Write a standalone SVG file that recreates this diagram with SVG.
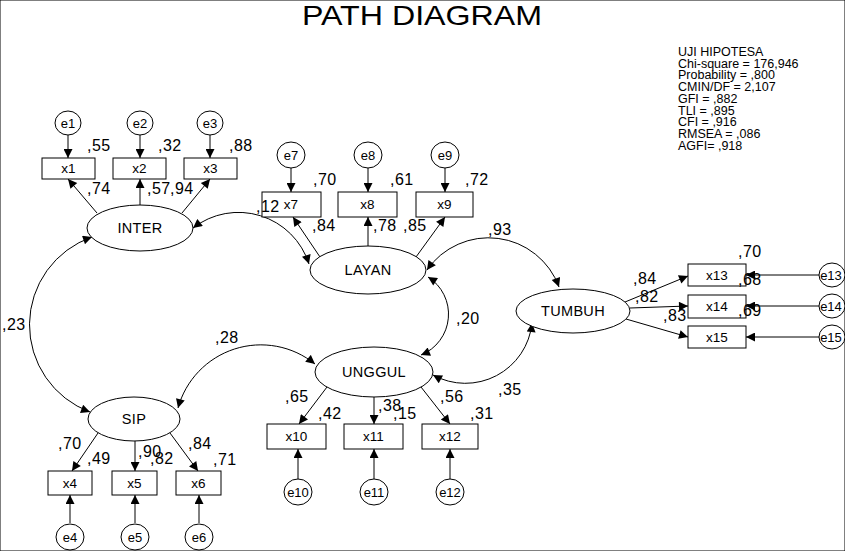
<svg xmlns="http://www.w3.org/2000/svg" width="845" height="551" viewBox="0 0 845 551">
<style>
text{font-family:"Liberation Sans",Arial,sans-serif;fill:#000}
.t{font-size:28px}
.n{font-size:16px;letter-spacing:0.5px}
.lv{font-size:14.5px;text-anchor:middle;letter-spacing:0.3px}
.ob{font-size:13.5px;text-anchor:middle}
.er{font-size:13px;text-anchor:middle}
.st{font-size:12.5px}
ellipse,rect,circle{fill:#fff;stroke:#000;stroke-width:1}
.c path{fill:none;stroke:#000;stroke-width:1;marker-end:url(#ah)}
.c .cov{marker-start:url(#ah)}
</style>
<defs>
<marker id="ah" viewBox="0 0 10 10" refX="10" refY="5" markerWidth="11" markerHeight="9" markerUnits="userSpaceOnUse" orient="auto-start-reverse">
<path d="M0,0 L10,5 L0,10 z" fill="#000"/>
</marker>
</defs>
<rect x="0" y="0" width="845" height="551" fill="#fff" stroke="none"/>
<text class="t" x="302" y="25" textLength="240" lengthAdjust="spacingAndGlyphs">PATH DIAGRAM</text>
<g id="fit">
<text class="st" x="678" y="56">UJI HIPOTESA</text>
<text class="st" x="678" y="67.7">Chi-square = 176,946</text>
<text class="st" x="678" y="79.4">Probability = ,800</text>
<text class="st" x="678" y="91.1">CMIN/DF = 2,107</text>
<text class="st" x="678" y="102.8">GFI = ,882</text>
<text class="st" x="678" y="114.5">TLI = ,895</text>
<text class="st" x="678" y="126.2">CFI = ,916</text>
<text class="st" x="678" y="137.9">RMSEA = ,086</text>
<text class="st" x="678" y="149.6">AGFI= ,918</text>
</g>
<g class="c" id="connectors">
<path d="M68,135 L68,158"/><path d="M140,135 L140,158"/><path d="M210,135 L210,158"/>
<path d="M97,213 L68,179"/><path d="M140,205 L140,179"/><path d="M182,213 L210,179"/>
<path d="M291,168 L291,192"/><path d="M368,168 L368,192"/><path d="M445,168 L445,192"/>
<path d="M320,257 L293,217"/><path d="M368,246 L368,217"/><path d="M416,257 L445,217"/>
<path d="M98,433 L72,471"/><path d="M135,441 L135,471"/><path d="M170,433 L198,471"/>
<path d="M70,523 L70,495"/><path d="M135,523 L135,495"/><path d="M199,523 L199,495"/>
<path d="M327,387 L299,424"/><path d="M374,397 L374,424"/><path d="M421,387 L450,424"/>
<path d="M298,479 L298,449"/><path d="M374,479 L374,449"/><path d="M450,479 L450,449"/>
<path d="M625,302 L688,276"/><path d="M630,308 L688,306"/><path d="M626,319 L688,337"/>
<path d="M819,275 L746,275"/><path d="M819,306 L746,306"/><path d="M819,337 L746,337"/>
<path class="cov" d="M92,237 A93,93 0 0 0 90,412"/>
<path class="cov" d="M193,228 A74,74 0 0 1 309,264"/>
<path class="cov" d="M178,408 A86,86 0 0 1 315,364"/>
<path class="cov" d="M427,270 A75,75 0 0 1 559,287"/>
<path class="cov" d="M428,277 A44,44 0 0 1 421,355"/>
<path class="cov" d="M433,375 A67,67 0 0 0 532,323"/>
</g>
<g id="INTER"><ellipse cx="140" cy="228" rx="53" ry="23"/><text class="lv" x="140" y="233">INTER</text></g>
<g id="LAYAN"><ellipse cx="368" cy="270" rx="58" ry="24"/><text class="lv" x="368" y="275">LAYAN</text></g>
<g id="TUMBUH"><ellipse cx="573" cy="311" rx="57" ry="22"/><text class="lv" x="573" y="316">TUMBUH</text></g>
<g id="UNGGUL"><ellipse cx="374" cy="372" rx="59" ry="25"/><text class="lv" x="374" y="377">UNGGUL</text></g>
<g id="SIP"><ellipse cx="134" cy="419" rx="46" ry="22"/><text class="lv" x="134" y="424">SIP</text></g>
<g id="x1"><rect x="42" y="158" width="53" height="21"/><text class="ob" x="68.5" y="173">x1</text></g>
<g id="x2"><rect x="113" y="158" width="53" height="21"/><text class="ob" x="139.5" y="173">x2</text></g>
<g id="x3"><rect x="184" y="158" width="53" height="21"/><text class="ob" x="210.5" y="173">x3</text></g>
<g id="x7"><rect x="262" y="192" width="59" height="25"/><text class="ob" x="291" y="209">x7</text></g>
<g id="x8"><rect x="338" y="192" width="59" height="25"/><text class="ob" x="367.5" y="209">x8</text></g>
<g id="x9"><rect x="416" y="192" width="57" height="25"/><text class="ob" x="444.5" y="209">x9</text></g>
<g id="x4"><rect x="48" y="471" width="44" height="24"/><text class="ob" x="70" y="488">x4</text></g>
<g id="x5"><rect x="112" y="471" width="45" height="24"/><text class="ob" x="134.5" y="488">x5</text></g>
<g id="x6"><rect x="176" y="471" width="45" height="24"/><text class="ob" x="198.5" y="488">x6</text></g>
<g id="x10"><rect x="267" y="424" width="59" height="25"/><text class="ob" x="296.5" y="441">x10</text></g>
<g id="x11"><rect x="344" y="424" width="59" height="25"/><text class="ob" x="373.5" y="441">x11</text></g>
<g id="x12"><rect x="422" y="424" width="56" height="25"/><text class="ob" x="450" y="441">x12</text></g>
<g id="x13"><rect x="688" y="264" width="58" height="22"/><text class="ob" x="717" y="280">x13</text></g>
<g id="x14"><rect x="688" y="295" width="58" height="23"/><text class="ob" x="717" y="311">x14</text></g>
<g id="x15"><rect x="688" y="326" width="58" height="22"/><text class="ob" x="717" y="342">x15</text></g>
<g id="e1"><ellipse cx="68" cy="123" rx="13" ry="12"/><text class="er" x="68" y="127.5">e1</text></g>
<g id="e2"><ellipse cx="140" cy="123" rx="13" ry="12"/><text class="er" x="140" y="127.5">e2</text></g>
<g id="e3"><ellipse cx="210" cy="123" rx="13" ry="12"/><text class="er" x="210" y="127.5">e3</text></g>
<g id="e7"><ellipse cx="291" cy="155" rx="14" ry="13"/><text class="er" x="291" y="159.5">e7</text></g>
<g id="e8"><ellipse cx="368" cy="155" rx="14" ry="13"/><text class="er" x="368" y="159.5">e8</text></g>
<g id="e9"><ellipse cx="445" cy="155" rx="14" ry="13"/><text class="er" x="445" y="159.5">e9</text></g>
<g id="e4"><ellipse cx="70" cy="537" rx="14" ry="13"/><text class="er" x="70" y="541.5">e4</text></g>
<g id="e5"><ellipse cx="135" cy="537" rx="14" ry="13"/><text class="er" x="135" y="541.5">e5</text></g>
<g id="e6"><ellipse cx="199" cy="537" rx="14" ry="13"/><text class="er" x="199" y="541.5">e6</text></g>
<g id="e10"><ellipse cx="298" cy="492" rx="14" ry="13"/><text class="er" x="298" y="496.5">e10</text></g>
<g id="e11"><ellipse cx="374" cy="492" rx="14" ry="13"/><text class="er" x="374" y="496.5">e11</text></g>
<g id="e12"><ellipse cx="450" cy="492" rx="14" ry="13"/><text class="er" x="450" y="496.5">e12</text></g>
<g id="e13"><ellipse cx="832" cy="275" rx="13" ry="12"/><text class="er" x="831" y="279.5">e13</text></g>
<g id="e14"><ellipse cx="832" cy="306" rx="13" ry="12"/><text class="er" x="831" y="310.5">e14</text></g>
<g id="e15"><ellipse cx="832" cy="337" rx="13" ry="12"/><text class="er" x="831" y="341.5">e15</text></g>
<g id="labels">
<text class="n" x="87" y="151">,55</text><text class="n" x="158" y="151">,32</text><text class="n" x="229" y="151">,88</text>
<text class="n" x="87" y="194">,74</text><text class="n" x="147" y="194">,57</text><text class="n" x="170" y="194">,94</text>
<text class="n" x="313" y="185">,70</text><text class="n" x="390" y="185">,61</text><text class="n" x="465" y="185">,72</text>
<text class="n" x="256" y="212">,12</text><text class="n" x="312" y="231">,84</text><text class="n" x="373" y="231">,78</text><text class="n" x="403" y="231">,85</text>
<text class="n" x="488" y="235">,93</text>
<text class="n" x="2" y="330">,23</text>
<text class="n" x="215" y="343">,28</text>
<text class="n" x="456" y="324">,20</text>
<text class="n" x="498" y="395">,35</text>
<text class="n" x="285" y="402">,65</text><text class="n" x="318" y="419">,42</text><text class="n" x="378" y="411">,38</text><text class="n" x="393" y="419">,15</text><text class="n" x="440" y="402">,56</text><text class="n" x="470" y="419">,31</text>
<text class="n" x="58" y="449">,70</text><text class="n" x="87" y="464">,49</text><text class="n" x="138" y="457">,90</text><text class="n" x="150" y="464">,82</text><text class="n" x="188" y="449">,84</text><text class="n" x="213" y="465">,71</text>
<text class="n" x="738" y="257">,70</text><text class="n" x="738" y="285">,68</text><text class="n" x="738" y="316">,69</text>
<text class="n" x="633" y="284">,84</text><text class="n" x="635" y="302">,82</text><text class="n" x="663" y="321">,83</text>
</g>
</svg>
